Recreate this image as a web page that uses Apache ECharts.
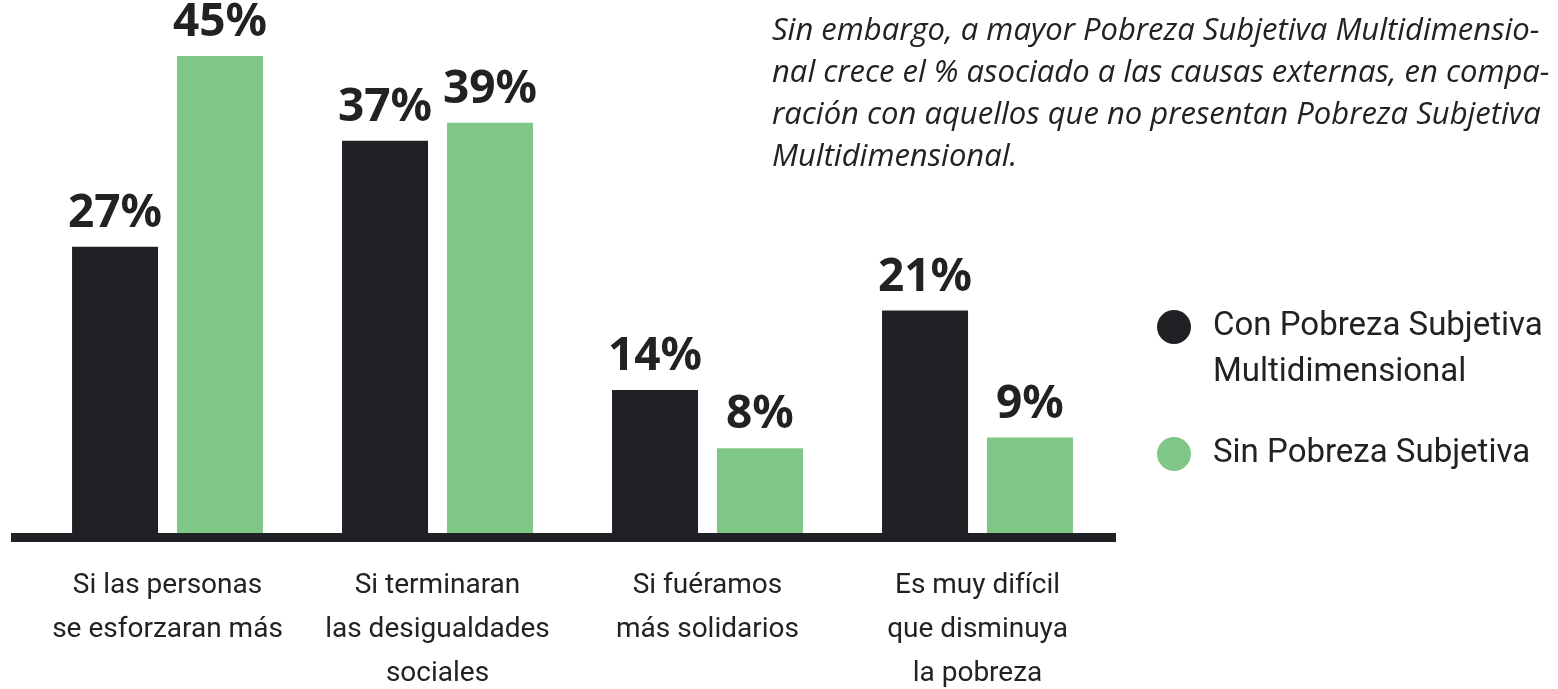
<!DOCTYPE html>
<html>
<head>
<meta charset="utf-8">
<style>
  html, body { margin: 0; padding: 0; background: #fff; }
  #chart { width: 1558px; height: 689px; }
</style>
<script src="https://cdn.jsdelivr.net/npm/echarts@6/dist/echarts.min.js"></script>
</head>
<body>
<div id="chart"></div>
<script>
var categories = [
  'Si las personas\nse esforzaran más',
  'Si terminaran\nlas desigualdades\nsociales',
  'Si fuéramos\nmás solidarios',
  'Es muy difícil\nque disminuya\nla pobreza'
];
var seriesNames = ['Con Pobreza Subjetiva\nMultidimensional', 'Sin Pobreza Subjetiva'];
var conPobreza = [27, 37, 13.5, 21];
var sinPobreza = [45, 38.7, 8, 9];
var note = 'Sin embargo, a mayor Pobreza Subjetiva Multidimensio-\n' +
  'nal crece el % asociado a las causas externas, en compa-\n' +
  'ración con aquellos que no presentan Pobreza Subjetiva\n' +
  'Multidimensional.';

var dark = '#202124';
var green = '#80c687';
var textColor = '#222222';

var chart = echarts.init(document.getElementById('chart'));

var barLabel = {
  show: true,
  position: 'top',
  distance: 10,
  fontFamily: 'Noto Sans',
  fontWeight: 'bold',
  fontSize: 46,
  color: textColor,
  formatter: function (p) {
    return Math.round(p.value) + '%';
  }
};

// first text line is kept level with the round icon
function legendFor(name, top) {
  return {
    data: [name],
    orient: 'vertical',
    left: 1157,
    top: top,
    padding: 0,
    icon: 'circle',
    itemWidth: 34,
    itemHeight: 34,
    selectedMode: false,
    formatter: function (n) {
      return n.indexOf('\n') >= 0 ? '\n' + n : n;
    },
    textStyle: {
      fontFamily: 'Roboto',
      fontSize: 33,
      lineHeight: 46,
      color: textColor,
      padding: [0, 0, 0, 17],
      backgroundColor: 'rgba(0,0,0,0)'
    }
  };
}

var option = {
  animation: false,
  backgroundColor: '#ffffff',
  title: {
    text: note,
    left: 772,
    top: 10,
    padding: 0,
    textStyle: {
      fontFamily: 'Open Sans',
      fontStyle: 'italic',
      fontWeight: 'normal',
      fontSize: 31,
      lineHeight: 42,
      color: textColor
    }
  },
  legend: [
    legendFor(seriesNames[0], 258),
    legendFor(seriesNames[1], 431)
  ],
  grid: [
    { left: 32.5, right: 445.5, top: 3, bottom: 156, outerBoundsMode: 'none' },
    // grid used only to draw the long baseline
    { left: 11, right: 442, top: 0, bottom: 151.5, outerBoundsMode: 'none' }
  ],
  xAxis: [
    {
      type: 'category',
      gridIndex: 0,
      data: categories,
      axisLine: { show: false },
      axisTick: { show: false },
      axisLabel: {
        margin: 31,
        interval: 0,
        fontFamily: 'Roboto',
        fontSize: 28,
        lineHeight: 44,
        color: textColor,
        align: 'center'
      }
    },
    {
      type: 'value',
      gridIndex: 1,
      min: 0,
      max: 1,
      axisLine: { show: true, lineStyle: { color: dark, width: 9, cap: 'butt' } },
      axisTick: { show: false },
      axisLabel: { show: false },
      splitLine: { show: false }
    }
  ],
  yAxis: [
    {
      type: 'value',
      gridIndex: 0,
      min: 0,
      max: 50,
      show: false
    },
    {
      type: 'value',
      gridIndex: 1,
      show: false
    }
  ],
  series: [
    {
      name: seriesNames[0],
      type: 'bar',
      data: conPobreza,
      barWidth: 86,
      barGap: '22%',
      itemStyle: { color: dark },
      label: barLabel
    },
    {
      name: seriesNames[1],
      type: 'bar',
      data: sinPobreza,
      barWidth: 86,
      barGap: '22%',
      itemStyle: { color: green },
      label: barLabel
    }
  ]
};

chart.setOption(option);
</script>
</body>
</html>
